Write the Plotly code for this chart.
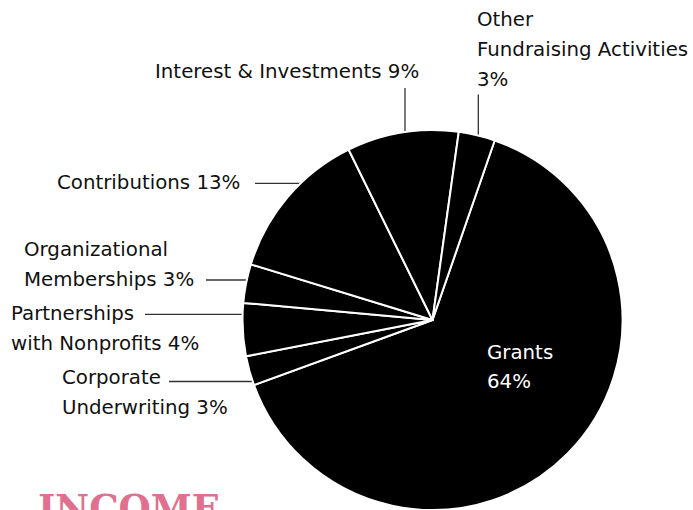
import math
import plotly.graph_objects as go

# ---- data ----
categories = ["Grants", "Corporate Underwriting", "Partnerships with Nonprofits",
              "Organizational Memberships", "Contributions", "Interest & Investments",
              "Other Fundraising Activities"]
shares = [64.2, 2.5, 4.5, 3.3, 13.0, 9.5, 3.1]          # slice sizes
pct_labels = [64, 3, 4, 3, 13, 9, 3]                     # percentages as printed
label_lines = [
    ["Grants", "{}%"],
    ["Corporate", "Underwriting {}%"],
    ["Partnerships", "with Nonprofits {}%"],
    ["Organizational", "Memberships {}%"],
    ["Contributions {}%"],
    ["Interest & Investments {}%"],
    ["Other", "Fundraising Activities", "{}%"],
]
title_text = "INCOME"

# ---- layout constants (pixels) ----
W, H = 693, 510
CX, CY, R = 432.5, 320.0, 190.0
FONT = "DejaVu Sans"
FS = 19.8

def px(x):
    return x / W

def py(y):
    return 1 - y / H

fig = go.Figure(go.Pie(
    labels=categories, values=shares, sort=False, direction="clockwise",
    rotation=19.1, textinfo="none", hoverinfo="label+percent",
    marker=dict(colors=["#000000"] * len(categories), line=dict(color="#ffffff", width=2)),
    domain=dict(x=[px(CX - R), px(CX + R)], y=[py(CY + R), py(CY - R)]),
    showlegend=False,
))

# label placement: (anchor x, xanchor, first line y, line gap, color, leader)
# leader: ("h", x_start, y) horizontal to pie edge, ("v", x, y_start) vertical to pie edge
placements = [
    (485, "left", 352, 29.5, "#ffffff", None),
    (60, "left", 377.5, 30, "#111111", ("h", 169, 381.5)),
    (9, "left", 313.3, 30, "#111111", ("h", 145, 314.3)),
    (21.5, "left", 249, 30, "#111111", ("h", 206, 280)),
    (242, "right", 182, 30, "#111111", ("h", 255, 183.3)),
    (421, "right", 71.7, 30, "#111111", ("v", 405, 88)),
    (475, "left", 20, 29.7, "#111111", ("v", 478.3, 94.5)),
]

annotations = []
shapes = []
for lines, pct, (ax, xa, y0, gap, col, leader) in zip(label_lines, pct_labels, placements):
    for i, ln in enumerate(lines):
        annotations.append(dict(
            x=px(ax), y=py(y0 + i * gap), xref="paper", yref="paper",
            xanchor=xa, yanchor="middle", showarrow=False, align="left",
            text=ln.format(pct), font=dict(family=FONT, size=FS, color=col),
        ))
    if leader:
        kind, a, b = leader
        if kind == "h":
            xe = CX - math.sqrt(R * R - (b - CY) ** 2)
            x0, y0_, x1, y1 = a, b, xe, b
        else:
            ye = CY - math.sqrt(R * R - (a - CX) ** 2)
            x0, y0_, x1, y1 = a, b, a, ye
        shapes.append(dict(type="line", xref="paper", yref="paper",
                           x0=px(x0), y0=py(y0_), x1=px(x1), y1=py(y1),
                           line=dict(color="#333333", width=1.3), layer="below"))

annotations.append(dict(
    x=px(36), y=py(484), xref="paper", yref="paper", xanchor="left", yanchor="top",
    showarrow=False, text="<b>" + title_text + "</b>",
    font=dict(family="DejaVu Serif", size=37, color="#e0708f"),
))

fig.update_layout(
    width=W, height=H, margin=dict(l=0, r=0, t=0, b=0),
    paper_bgcolor="#ffffff", plot_bgcolor="#ffffff",
    annotations=annotations, shapes=shapes,
)
fig.write_html("out.html", config={"displayModeBar": False},
               post_script="document.body.style.margin='0';document.body.style.overflow='hidden';")
